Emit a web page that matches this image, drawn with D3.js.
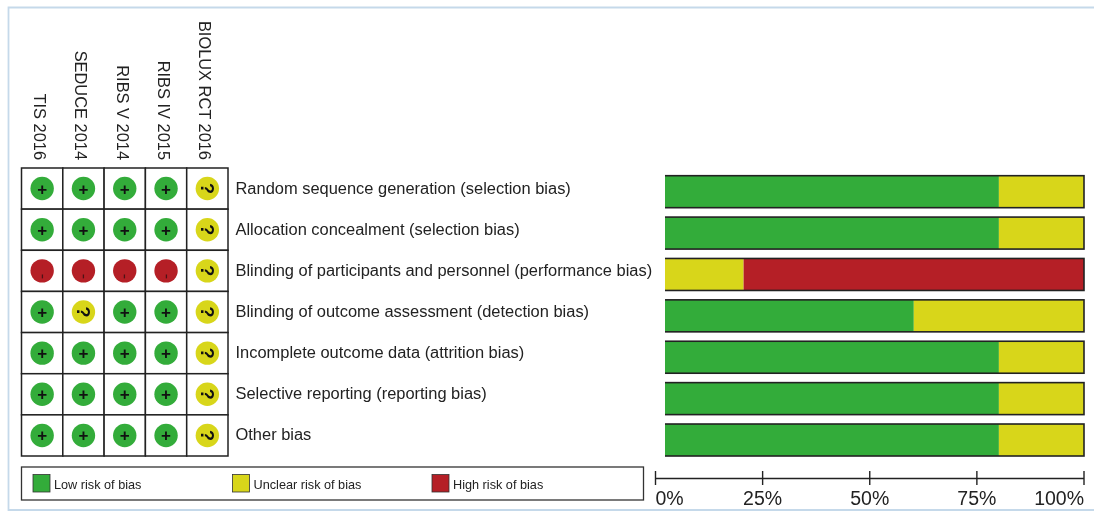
<!DOCTYPE html>
<html>
<head>
<meta charset="utf-8">
<script src="https://cdn.jsdelivr.net/npm/d3@7"></script>
<style>
  html, body { margin: 0; padding: 0; background: #fff; }
  svg { display: block; filter: blur(0.45px); }
  text { font-family: "Liberation Sans", Arial, sans-serif; fill: #222; }
</style>
</head>
<body>
<div id="chart"></div>
<script>
// Risk of bias summary + graph
const studies = ["TIS 2016", "SEDUCE 2014", "RIBS V 2014", "RIBS IV 2015", "BIOLUX RCT 2016"];
const domains = [
  "Random sequence generation (selection bias)",
  "Allocation concealment (selection bias)",
  "Blinding of participants and personnel (performance bias)",
  "Blinding of outcome assessment (detection bias)",
  "Incomplete outcome data (attrition bias)",
  "Selective reporting (reporting bias)",
  "Other bias"
];
// one row per domain, one letter per study: L low, U unclear, H high
const judgments = [
  ["L", "L", "L", "L", "U"],
  ["L", "L", "L", "L", "U"],
  ["H", "H", "H", "H", "U"],
  ["L", "U", "L", "L", "U"],
  ["L", "L", "L", "L", "U"],
  ["L", "L", "L", "L", "U"],
  ["L", "L", "L", "L", "U"]
];
const riskKeys = ["L", "U", "H"];
const riskLabels = ["Low risk of bias", "Unclear risk of bias", "High risk of bias"];
const riskColors = ["#33ac3a", "#d8d61a", "#b51f26"];
const riskSymbols = ["+", "?", "-"];
const axisTicks = [0, 25, 50, 75, 100];

const W = 1094, H = 511;
const color = d3.scaleOrdinal().domain(riskKeys).range(riskColors);
const symbol = d3.scaleOrdinal().domain(riskKeys).range(riskSymbols);

const svg = d3.select("#chart").append("svg")
  .attr("width", W)
  .attr("height", H);

// pale frame round the figure
svg.append("path")
  .attr("d", `M${W},7.5H8.5V510H${W}`)
  .attr("fill", "none")
  .attr("stroke", "#c5d9ea")
  .attr("stroke-width", 1.8);

const col = d3.scaleBand().domain(studies).range([21.5, 228]);
const row = d3.scaleBand().domain(domains).range([168, 456]);

// study names, rotated
svg.append("g")
  .selectAll("text")
  .data(studies)
  .enter()
  .append("text")
  .attr("transform", d => `translate(${col(d) + col.bandwidth() / 2 - 8},160)rotate(90)`)
  .attr("text-anchor", "end")
  .attr("font-size", 16.4)
  .text(d => d);

// summary grid
const cells = domains.flatMap((dom, i) => studies.map((st, j) => ({ dom, st, risk: judgments[i][j] })));

svg.append("g")
  .selectAll("rect")
  .data(cells)
  .enter()
  .append("rect")
  .attr("x", d => col(d.st))
  .attr("y", d => row(d.dom))
  .attr("width", col.bandwidth())
  .attr("height", row.bandwidth())
  .attr("fill", "#fff")
  .attr("stroke", "#222")
  .attr("stroke-width", 1.5);

svg.append("g")
  .selectAll("circle")
  .data(cells)
  .enter()
  .append("circle")
  .attr("cx", d => col(d.st) + col.bandwidth() / 2)
  .attr("cy", d => row(d.dom) + row.bandwidth() / 2)
  .attr("r", 11.7)
  .attr("fill", d => color(d.risk));

// the symbols: ? and - lie on their side in the figure, the - is just a thin dark tick
svg.append("g")
  .selectAll("text")
  .data(cells)
  .enter()
  .append("text")
  .attr("transform", d => {
    const cx = col(d.st) + col.bandwidth() / 2;
    const cy = row(d.dom) + row.bandwidth() / 2;
    if (d.risk === "L") return `translate(${cx},${cy + 6})`;
    if (d.risk === "U") return `translate(${cx - 6.5},${cy})rotate(90)`;
    return `translate(${cx - 4.5},${cy + 5.5})rotate(90)`;
  })
  .attr("text-anchor", "middle")
  .attr("font-size", d => d.risk === "U" ? 18 : d.risk === "H" ? 16 : 17)
  .attr("font-weight", d => d.risk === "H" ? "normal" : "bold")
  .style("fill", d => d.risk === "H" ? "#4d1216" : "#111")
  .text(d => symbol(d.risk));

// domain names
svg.append("g")
  .selectAll("text")
  .data(domains)
  .enter()
  .append("text")
  .attr("x", 235.5)
  .attr("y", d => row(d) + row.bandwidth() / 2 + 5)
  .attr("font-size", 16.44)
  .text(d => d);

// stacked graph, percentages counted from the judgments.
// the scale really starts left of 665, the figure's labels cover the start of the bars
const pct = d3.scaleLinear().domain([0, 100]).range([658.5, 1084]);
const barRow = d3.scaleBand().domain(domains).range([171.56, 460.14]).paddingInner(0.227).paddingOuter(0.1);

const shares = domains.map((dom, i) => {
  const o = { dom };
  riskKeys.forEach(k => { o[k] = judgments[i].filter(v => v === k).length / studies.length * 100; });
  return o;
});
const stacked = d3.stack().keys(riskKeys)(shares);

svg.append("clipPath")
  .attr("id", "barClip")
  .append("rect")
  .attr("x", 665)
  .attr("y", 0)
  .attr("width", W - 665)
  .attr("height", H);

const bars = svg.append("g").attr("clip-path", "url(#barClip)");
bars.selectAll("g")
  .data(stacked)
  .enter()
  .append("g")
  .attr("fill", d => color(d.key))
  .selectAll("rect")
  .data(d => d)
  .enter()
  .append("rect")
  .attr("x", d => pct(d[0]))
  .attr("y", d => barRow(d.data.dom))
  .attr("width", d => pct(d[1]) - pct(d[0]))
  .attr("height", barRow.bandwidth());

bars.append("g")
  .selectAll("rect")
  .data(domains)
  .enter()
  .append("rect")
  .attr("x", pct(0))
  .attr("y", d => barRow(d))
  .attr("width", pct(100) - pct(0))
  .attr("height", barRow.bandwidth())
  .attr("fill", "none")
  .attr("stroke", "#222")
  .attr("stroke-width", 1.6);

// axis sits a little left of the bars, as in the figure
const axisScale = d3.scaleLinear().domain([0, 100]).range([655, 1083.5]);
const axis = svg.append("g")
  .attr("transform", "translate(0,478)")
  .call(d3.axisBottom(axisScale).tickValues(axisTicks).tickFormat(d => d + "%").tickSize(7).tickSizeOuter(0));
axis.select(".domain").attr("stroke", "#222").attr("stroke-width", 1.4);
axis.selectAll(".tick line").attr("y1", -7).attr("stroke", "#222").attr("stroke-width", 1.4);
axis.selectAll(".tick text")
  .attr("y", 27)
  .attr("dy", 0)
  .attr("text-anchor", d => d === 0 ? "start" : d === 100 ? "end" : "middle")
  .attr("font-size", 19.5)
  .attr("font-family", '"Liberation Sans", Arial, sans-serif');

// legend
svg.append("rect")
  .attr("x", 21.5)
  .attr("y", 467)
  .attr("width", 622)
  .attr("height", 33)
  .attr("fill", "#fff")
  .attr("stroke", "#333")
  .attr("stroke-width", 1.3);

const legendX = d3.scalePoint().domain(riskLabels).range([33, 432]);
const legend = svg.append("g")
  .selectAll("g")
  .data(riskLabels)
  .enter()
  .append("g")
  .attr("transform", d => `translate(${legendX(d)},474.5)`);

legend.append("rect")
  .attr("width", 17)
  .attr("height", 17.5)
  .attr("fill", (d, i) => riskColors[i])
  .attr("stroke", "#333")
  .attr("stroke-width", 0.8);

legend.append("text")
  .attr("x", 21)
  .attr("y", 14.5)
  .attr("font-size", 12.7)
  .text(d => d);
</script>
</body>
</html>
